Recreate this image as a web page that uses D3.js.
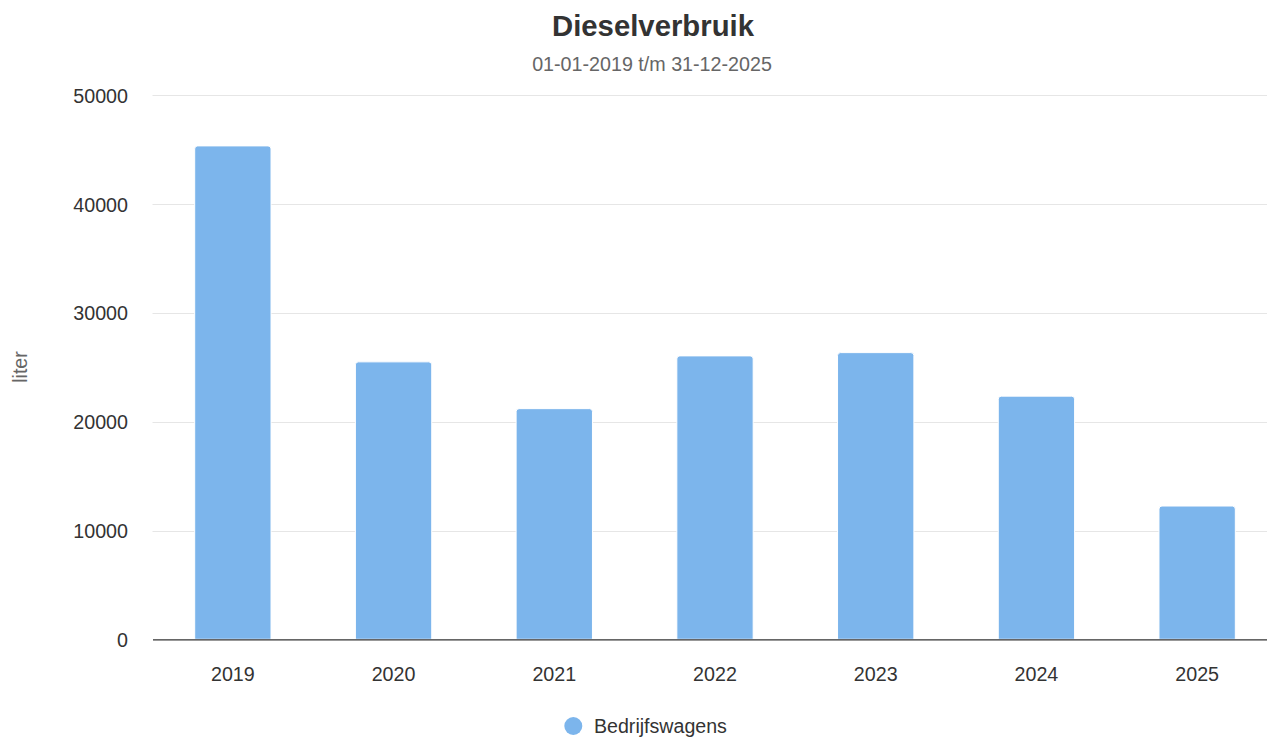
<!DOCTYPE html>
<html>
<head>
<meta charset="utf-8">
<script src="https://cdn.jsdelivr.net/npm/d3@7"></script>
<style>
  html, body { margin: 0; padding: 0; background: #fff; overflow: hidden; }
  svg { display: block; font-family: "Liberation Sans", Arial, Helvetica, sans-serif; }
</style>
</head>
<body>
<svg id="chart" width="1267" height="738"></svg>
<script>
const categories = ["2019", "2020", "2021", "2022", "2023", "2024", "2025"];
const values = [45350, 25500, 21200, 26050, 26350, 22350, 12250];
const yTicks = [0, 10000, 20000, 30000, 40000, 50000];
const seriesName = "Bedrijfswagens";
const titleText = "Dieselverbruik";
const subtitleText = "01-01-2019 t/m 31-12-2025";
const yAxisTitle = "liter";

const svg = d3.select("#chart");
const plotLeft = 152.5, plotRight = 1277.5, plotTop = 95.3, plotBottom = 639.3;
const barColor = "#7cb5ec";

const x = d3.scaleBand().domain(categories).range([plotLeft, plotRight]).padding(0);
const y = d3.scaleLinear().domain([0, 50000]).range([plotBottom, plotTop]);

// gridlines
svg.append("g").selectAll("line").data(yTicks.filter(d => d !== 0)).join("line")
  .attr("x1", plotLeft).attr("x2", plotRight)
  .attr("y1", d => Math.round(y(d)) + 0.5).attr("y2", d => Math.round(y(d)) + 0.5)
  .attr("stroke", "#e6e6e6").attr("stroke-width", 1);

// y axis labels
const yAxis = d3.axisLeft(y).tickValues(yTicks).tickSize(0).tickPadding(0).tickFormat(d3.format("d"));
const yg = svg.append("g").attr("transform", `translate(${128},0)`).call(yAxis);
yg.select(".domain").remove();
yg.selectAll("text").attr("font-size", 19.7).attr("fill", "#333").attr("dy", "0.36em")
  .style("font-family", '"Liberation Sans", Arial, sans-serif');

// bars
const bw = x.bandwidth() * 0.475;
const rad = 3;
svg.append("g").selectAll("path").data(values).join("path")
  .attr("d", (d, i) => {
    const cx = x(categories[i]) + x.bandwidth() / 2;
    const x0 = cx - bw / 2, x1 = cx + bw / 2;
    const yt = y(d), yb = y(0);
    return `M${x0},${yb} L${x0},${yt + rad} Q${x0},${yt} ${x0 + rad},${yt} L${x1 - rad},${yt} Q${x1},${yt} ${x1},${yt + rad} L${x1},${yb} Z`;
  })
  .attr("fill", barColor).attr("stroke", "#fff").attr("stroke-width", 1);

// x axis
const xAxis = d3.axisBottom(x).tickSize(0).tickPadding(0);
const xg = svg.append("g").attr("transform", `translate(0,${plotBottom})`).call(xAxis);
xg.select(".domain").attr("stroke", "#333").attr("stroke-width", 1.3);
xg.selectAll("text").attr("font-size", 19.7).attr("fill", "#333").attr("y", 42).attr("dy", 0)
  .style("font-family", '"Liberation Sans", Arial, sans-serif');

// title
svg.append("text").attr("x", 653).attr("y", 36).attr("text-anchor", "middle")
  .attr("font-size", 29.3).attr("font-weight", "bold").attr("fill", "#333").text(titleText);
svg.append("text").attr("x", 652).attr("y", 71).attr("text-anchor", "middle")
  .attr("font-size", 19.7).attr("fill", "#666").text(subtitleText);

// y axis title
svg.append("text").attr("transform", `translate(27,367) rotate(-90)`).attr("text-anchor", "middle")
  .attr("font-size", 19.7).attr("fill", "#666").text(yAxisTitle);

// legend
const lg = svg.append("g");
lg.append("circle").attr("cx", 573.3).attr("cy", 726).attr("r", 9).attr("fill", barColor);
lg.append("text").attr("x", 594).attr("y", 733).attr("font-size", 19.6).attr("fill", "#333").text(seriesName);
</script>
</body>
</html>
